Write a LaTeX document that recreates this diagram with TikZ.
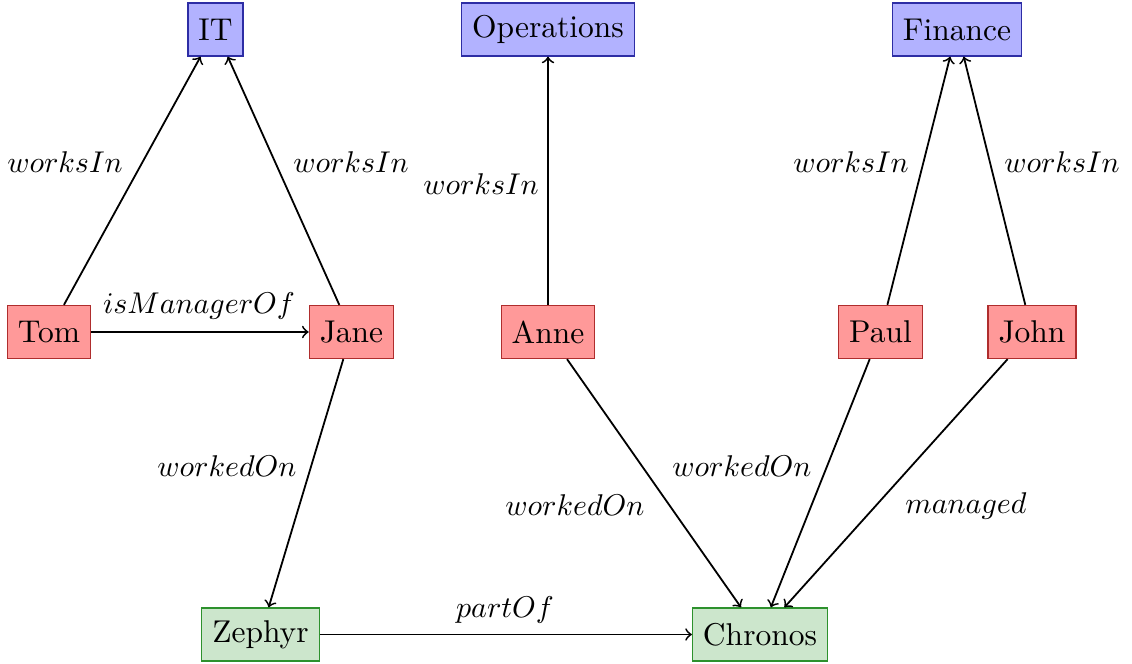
\documentclass[tikz,border=0pt]{standalone}
\definecolor{projfill}{RGB}{204,230,204}
\definecolor{projdraw}{RGB}{45,145,45}
\definecolor{deptdraw}{RGB}{45,45,165}
\definecolor{persdraw}{RGB}{175,45,45}
\begin{document}
\begin{tikzpicture}[x=0.3333pt,y=-0.3333pt,
  base/.style={draw, minimum height=17.7pt, inner sep=3.5pt, font=\fontsize{10.5}{12.6}\selectfont},
  dept/.style={base, fill=blue!30, draw=deptdraw},
  person/.style={base, fill=red!40, draw=persdraw},
  proj/.style={base, fill=projfill, draw=projdraw},
  rel/.style={->, semithick},
  lbl/.style={inner sep=0pt}]
\useasboundingbox (0,0) rectangle (1132,664);
% departments
\node[dept] (it) at (215.5,29.5) {IT};
\node[dept] (ops) at (548,29.5) {Operations};
\node[dept] (fin) at (957,29.5) {Finance};
% people
\node[person] (tom) at (49,332) {Tom};
\node[person] (jane) at (351.5,332) {Jane};
\node[person] (anne) at (548,332) {Anne};
\node[person] (paul) at (880.5,332) {Paul};
\node[person] (john) at (1032,332) {John};
% projects
\node[proj] (zephyr) at (260.5,634.5) {Zephyr};
\node[proj] (chronos) at (760,634.5) {Chronos};
% edges
\draw[rel] (tom) -- (it);
\draw[rel] (jane) -- (it);
\draw[rel] (tom) -- (jane);
\draw[rel] (anne) -- (ops);
\draw[rel] (paul) -- (fin);
\draw[rel] (john) -- (fin);
\draw[rel] (jane) -- (zephyr);
\draw[rel] (anne) -- (chronos);
\draw[rel] (paul) -- (chronos);
\draw[rel] (john) -- (chronos);
\draw[rel] (zephyr) -- (chronos);
% labels
\node[lbl] (l1) at (65,162) {$worksIn$};
\node[lbl] (l2) at (351,162) {$worksIn$};
\node[lbl] (l3) at (199,306) {$isManagerOf$};
\node[lbl] (l4) at (481,184) {$worksIn$};
\node[lbl] (l5) at (851,162) {$worksIn$};
\node[lbl] (l6) at (1062,162) {$worksIn$};
\node[lbl] (l7) at (227,466) {$workedOn$};
\node[lbl] (l8) at (575,505) {$workedOn$};
\node[lbl] (l9) at (742,466) {$workedOn$};
\node[lbl] (l10) at (966,506) {$managed$};
\node[lbl] (l11) at (505,610) {$partOf$};
\end{tikzpicture}
\end{document}
